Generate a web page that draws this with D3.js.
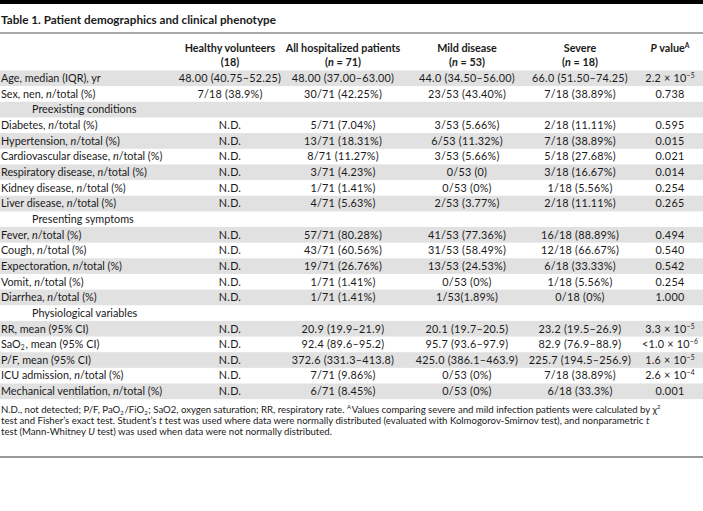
<!DOCTYPE html>
<html><head><meta charset="utf-8">
<script src="https://cdn.jsdelivr.net/npm/d3@7"></script>
<style>body{margin:0;background:#fff} svg{display:block}</style>
</head><body><svg id="c" width="703" height="511"></svg>
<script>
const title = "Table 1. Patient demographics and clinical phenotype";
const colHeads = ["Healthy volunteers","All hospitalized patients","Mild disease","Severe","{i:P} value{sup:A}"];
const colSubs = ["(18)","({i:n} = 71)","({i:n} = 53)","({i:n} = 18)",""];
const sectionRows = ["Preexisting conditions","Presenting symptoms","Physiological variables"];
const rowLabels = [
 "Age, median (IQR), yr","Sex, nen, {i:n}/total (%)","Preexisting conditions",
 "Diabetes, {i:n}/total (%)","Hypertension, {i:n}/total (%)","Cardiovascular disease, {i:n}/total (%)",
 "Respiratory disease, {i:n}/total (%)","Kidney disease, {i:n}/total (%)","Liver disease, {i:n}/total (%)",
 "Presenting symptoms","Fever, {i:n}/total (%)","Cough, {i:n}/total (%)","Expectoration, {i:n}/total (%)",
 "Vomit, {i:n}/total (%)","Diarrhea, {i:n}/total (%)","Physiological variables",
 "RR, mean (95% CI)","SaO{sub:2}, mean (95% CI)","P/F, mean (95% CI)",
 "ICU admission, {i:n}/total (%)","Mechanical ventilation, {i:n}/total (%)"];
const healthy = ["48.00 (40.75–52.25)","7/18 (38.9%)","","N.D.","N.D.","N.D.","N.D.","N.D.","N.D.","",
 "N.D.","N.D.","N.D.","N.D.","N.D.","","N.D.","N.D.","N.D.","N.D.","N.D."];
const allPatients = ["48.00 (37.00–63.00)","30/71 (42.25%)","","5/71 (7.04%)","13/71 (18.31%)","8/71 (11.27%)",
 "3/71 (4.23%)","1/71 (1.41%)","4/71 (5.63%)","","57/71 (80.28%)","43/71 (60.56%)","19/71 (26.76%)",
 "1/71 (1.41%)","1/71 (1.41%)","","20.9 (19.9–21.9)","92.4 (89.6–95.2)","372.6 (331.3–413.8)",
 "7/71 (9.86%)","6/71 (8.45%)"];
const mild = ["44.0 (34.50–56.00)","23/53 (43.40%)","","3/53 (5.66%)","6/53 (11.32%)","3/53 (5.66%)",
 "0/53 (0)","0/53 (0%)","2/53 (3.77%)","","41/53 (77.36%)","31/53 (58.49%)","13/53 (24.53%)",
 "0/53 (0%)","1/53(1.89%)","","20.1 (19.7–20.5)","95.7 (93.6–97.9)","425.0 (386.1–463.9)",
 "0/53 (0%)","0/53 (0%)"];
const severe = ["66.0 (51.50–74.25)","7/18 (38.89%)","","2/18 (11.11%)","7/18 (38.89%)","5/18 (27.68%)",
 "3/18 (16.67%)","1/18 (5.56%)","2/18 (11.11%)","","16/18 (88.89%)","12/18 (66.67%)","6/18 (33.33%)",
 "1/18 (5.56%)","0/18 (0%)","","23.2 (19.5–26.9)","82.9 (76.9–88.9)","225.7 (194.5–256.9)",
 "7/18 (38.89%)","6/18 (33.3%)"];
const pValues = ["2.2 × 10{sup:−5}","0.738","","0.595","0.015","0.021","0.014","0.254","0.265","",
 "0.494","0.540","0.542","0.254","1.000","","3.3 × 10{sup:−5}","<1.0 × 10{sup:−6}","1.6 × 10{sup:−5}",
 "2.6 × 10{sup:−4}","0.001"];
const footnotes = [
 "N.D., not detected; P/F,  PaO{sub:2}/FiO{sub:2}; SaO2, oxygen saturation; RR, respiratory rate. {sup:A}Values comparing severe and mild infection patients were calculated by χ{sup:2}",
 "test and Fisher’s exact test. Student’s {i:t} test was used where data were normally distributed (evaluated with Kolmogorov-Smirnov test), and nonparametric {i:t}",
 "test (Mann-Whitney {i:U} test) was used when data were not normally distributed."];

const W = 703, FONT = "Lato, 'Noto Sans', sans-serif", INK = "#1a1a1a";
const svg = d3.select("#c").style("font-family", FONT);

function rich(textSel, str, fs) {
  const re = /\{(i|sub|sup):([^}]*)\}/g;
  let last = 0, m, prevSmall = false;
  const add = (t, kind) => {
    if (!t) return;
    const ts = textSel.append("tspan").text(t);
    if (prevSmall) ts.attr("dx", fs * 0.08);
    prevSmall = false;
    if (kind === "i") ts.attr("font-style", "italic");
    if (kind === "sup") { ts.attr("font-size", fs * 0.62).attr("baseline-shift", fs * 0.38); prevSmall = true; }
    if (kind === "sub") { ts.attr("font-size", fs * 0.62).attr("baseline-shift", -fs * 0.2); prevSmall = true; }
  };
  while ((m = re.exec(str))) { add(str.slice(last, m.index), null); add(m[2], m[1]); last = re.lastIndex; }
  add(str.slice(last), null);
}

// top bar & title
svg.append("rect").attr("x", 0).attr("y", 0).attr("width", W).attr("height", 4).attr("fill", "#000");
svg.append("text").attr("x", 1).attr("y", 24).attr("font-weight", 700).attr("font-size", 11.7)
  .attr("fill", INK).text(title);
svg.append("rect").attr("x", 0).attr("y", 32.5).attr("width", W).attr("height", 1).attr("fill", "#555");

// scales
const rowIdx = d3.range(rowLabels.length);
const y = d3.scaleBand().domain(rowIdx).range([70.5, 70.5 + 15.65 * rowLabels.length]).padding(0);
const x = d3.scaleOrdinal().domain(d3.range(5)).range([230, 343, 467, 580, 670]);
const columns = [healthy, allPatients, mild, severe, pValues];
const FS = 10.8;

// header
colHeads.forEach((h, i) => {
  const t = svg.append("text").attr("x", x(i)).attr("y", 51.5).attr("text-anchor", "middle")
    .attr("font-weight", 700).attr("font-size", FS).attr("fill", INK);
  rich(t, h, FS);
  if (colSubs[i]) {
    const t2 = svg.append("text").attr("x", x(i)).attr("y", 65.5).attr("text-anchor", "middle")
      .attr("font-weight", 700).attr("font-size", FS).attr("fill", INK);
    rich(t2, colSubs[i], FS);
  }
});

// shading
svg.append("g").selectAll("rect").data(rowIdx.filter(i => i % 2 === 0)).join("rect")
  .attr("x", 0).attr("y", d => y(d)).attr("width", W).attr("height", y.bandwidth()).attr("fill", "#e1e1e1");

// labels
rowLabels.forEach((lab, i) => {
  const sec = sectionRows.includes(lab);
  const t = svg.append("text").attr("x", sec ? 32 : 1).attr("y", y(i) + y.bandwidth() / 2 + 3.8)
    .attr("font-size", FS).attr("fill", INK);
  rich(t, lab, FS);
});

// cells
columns.forEach((col, ci) => {
  col.forEach((v, ri) => {
    if (!v) return;
    const t = svg.append("text").attr("x", x(ci)).attr("y", y(ri) + y.bandwidth() / 2 + 3.8)
      .attr("text-anchor", "middle").attr("font-size", FS).attr("letter-spacing", 0.25).attr("fill", INK);
    rich(t, v, FS);
  });
});

// footnotes
footnotes.forEach((f, i) => {
  const t = svg.append("text").attr("x", 1).attr("y", 412.8 + i * 11.1).attr("font-size", 9.6).attr("fill", INK);
  rich(t, f, 9.6);
});
svg.append("rect").attr("x", 0).attr("y", 456).attr("width", W).attr("height", 2).attr("fill", "#999");
</script></body></html>
